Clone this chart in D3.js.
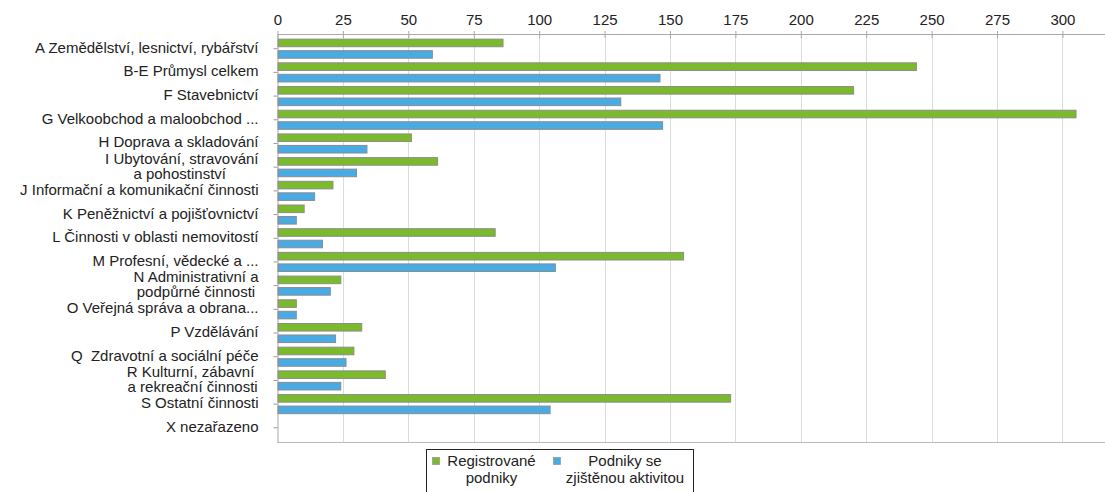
<!DOCTYPE html>
<html>
<head>
<meta charset="utf-8">
<script src="https://cdn.jsdelivr.net/npm/d3@7"></script>
<style>
  body { margin: 0; background: #fff; }
  text { font-family: "Liberation Sans", Arial, sans-serif; font-size: 15px; fill: #222; white-space: pre; }
</style>
</head>
<body>
<svg id="chart"></svg>
<script>
const categories = [
  "A Zemědělství, lesnictví, rybářství",
  "B-E Průmysl celkem",
  "F Stavebnictví",
  "G Velkoobchod a maloobchod ...",
  "H Doprava a skladování",
  "I Ubytování, stravování\na pohostinství ",
  "J Informační a komunikační činnosti",
  "K Peněžnictví a pojišťovnictví",
  "L Činnosti v oblasti nemovitostí",
  "M Profesní, vědecké a ...",
  "N Administrativní a\npodpůrné činnosti",
  "O Veřejná správa a obrana...",
  "P Vzdělávání",
  "Q  Zdravotní a sociální péče",
  "R Kulturní, zábavní \na rekreační činnosti",
  "S Ostatní činnosti",
  "X nezařazeno"
];
const registrovane = [86, 244, 220, 305, 51, 61, 21, 10, 83, 155, 24, 7, 32, 29, 41, 173, 0];
const aktivni = [59, 146, 131, 147, 34, 30, 14, 7, 17, 106, 20, 7, 22, 26, 24, 104, 0];
const seriesNames = ["Registrované\npodniky", "Podniky se\nzjištěnou aktivitou"];
const colors = ["#7cba2d", "#49abe3"];
const xTicks = [0, 25, 50, 75, 100, 125, 150, 175, 200, 225, 250, 275, 300];

const wSvg = 1105;
const hSvg = 492;
const margin = { top: 34, right: 2, bottom: 50, left: 277.5 };

const svg = d3.select("#chart")
  .attr("width", wSvg)
  .attr("height", hSvg);

const data = categories.map((c, i) => ({ cat: c, vals: [registrovane[i], aktivni[i]] }));

const x = d3.scaleLinear()
  .domain([0, 315.5])
  .range([margin.left, wSvg - margin.right]);

const y = d3.scaleBand()
  .domain(categories)
  .range([margin.top, hSvg - margin.bottom + 0.5])
  .paddingInner(0)
  .paddingOuter(0.12);

const yInner = d3.scaleBand()
  .domain([0, 1])
  .range([0, y.bandwidth()])
  .paddingInner(0.34)
  .paddingOuter(0.2);

const plotBottom = hSvg - margin.bottom + 0.5;

// mřížka
svg.append("g")
  .selectAll("line")
  .data(xTicks.slice(1))
  .enter()
  .append("line")
  .attr("x1", d => Math.round(x(d)) + 0.5)
  .attr("x2", d => Math.round(x(d)) + 0.5)
  .attr("y1", margin.top)
  .attr("y2", plotBottom)
  .attr("stroke", "#dcdcdc");

// horní osa
const xAxis = svg.append("g")
  .attr("transform", `translate(0, ${margin.top})`)
  .call(d3.axisTop(x).tickValues(xTicks).tickSize(3).tickSizeOuter(0));
xAxis.select(".domain").attr("stroke", "#aaa").attr("d", `M${margin.left},0.5H${wSvg}`);
xAxis.selectAll(".tick line").attr("stroke", "#aaa").attr("y1", 4).attr("y2", -3);
xAxis.selectAll(".tick text")
  .attr("y", -9)
  .style("font-size", "15px")
  .style("font-family", "'Liberation Sans', Arial, sans-serif")
  .attr("fill", "#222");

// spodní čára
svg.append("line")
  .attr("x1", margin.left)
  .attr("x2", wSvg)
  .attr("y1", plotBottom)
  .attr("y2", plotBottom)
  .attr("stroke", "#bbb");

// levá osa
const yAxis = svg.append("g")
  .attr("transform", `translate(${margin.left}, 0)`)
  .call(d3.axisLeft(y).tickSize(4).tickSizeOuter(0).tickFormat(""));
yAxis.select(".domain").attr("stroke", "#aaa");
yAxis.selectAll(".tick line").attr("stroke", "#999");

// popisky kategorií (víceřádkové jsou vycentrované mezi sebou)
const labelRight = margin.left - 19;
const labels = svg.append("g")
  .selectAll("text")
  .data(categories)
  .enter()
  .append("text")
  .attr("text-anchor", "middle");

labels.each(function (d) {
  const lines = d.split("\n");
  const t = d3.select(this);
  const lh = 15;
  lines.forEach((ln, k) => {
    t.append("tspan")
      .attr("y", y(d) + y.bandwidth() / 2 + 4 + (k - (lines.length - 1) / 2) * lh)
      .text(ln);
  });
  let maxW = 0;
  t.selectAll("tspan").each(function () {
    maxW = Math.max(maxW, this.getComputedTextLength());
  });
  t.selectAll("tspan").attr("x", labelRight - maxW / 2);
});

// sloupce
const groups = svg.append("g")
  .selectAll("g")
  .data(data)
  .enter()
  .append("g")
  .attr("transform", d => `translate(0, ${y(d.cat)})`);

groups.selectAll("rect")
  .data(d => d.vals.map((v, i) => ({ v: v, i: i })).filter(e => e.v > 0))
  .enter()
  .append("rect")
  .attr("x", x(0) + 0.5)
  .attr("y", d => yInner(d.i))
  .attr("width", d => x(d.v) - x(0))
  .attr("height", yInner.bandwidth())
  .attr("fill", d => colors[d.i])
  .attr("stroke", "#8c8c8c")
  .attr("stroke-width", 1);

// legenda
const legend = svg.append("g");
legend.append("rect")
  .attr("x", 426.5)
  .attr("y", 449.5)
  .attr("width", 267)
  .attr("height", 60)
  .attr("fill", "#fff")
  .attr("stroke", "#222");

const legendItems = [
  { swatch: 432.5, center: 491.5 },
  { swatch: 553.5, center: 625 }
];

legendItems.forEach((it, i) => {
  legend.append("rect")
    .attr("x", it.swatch)
    .attr("y", 457.5)
    .attr("width", 7)
    .attr("height", 7)
    .attr("fill", colors[i])
    .attr("stroke", "#999")
    .attr("stroke-width", 0.8);
  seriesNames[i].split("\n").forEach((ln, k) => {
    legend.append("text")
      .attr("x", it.center)
      .attr("y", 466 + k * 17)
      .attr("text-anchor", "middle")
      .text(ln);
  });
});
</script>
</body>
</html>
